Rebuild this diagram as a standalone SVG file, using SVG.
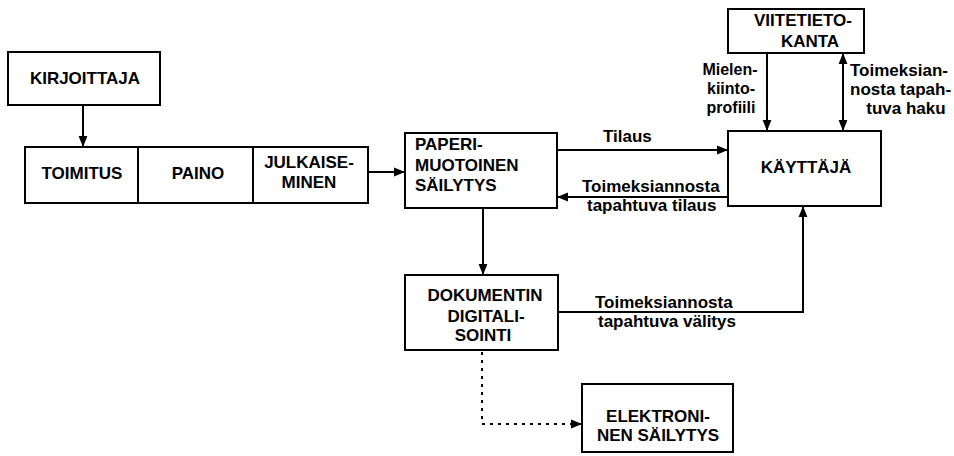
<svg xmlns="http://www.w3.org/2000/svg" width="954" height="456" viewBox="0 0 954 456">
<style>
.box{fill:#fff;stroke:#000;stroke-width:2}
.t{font-family:"Liberation Sans",Arial,sans-serif;font-weight:bold;font-size:17px;fill:#000}
.s{font-size:16px}
.c{text-anchor:middle}
.ln{fill:none;stroke:#000;stroke-width:2}
.dot{fill:none;stroke:#000;stroke-width:2;stroke-dasharray:3 5}
</style>
<defs>
<marker id="ah" viewBox="0 0 10 10" refX="10" refY="5" markerWidth="11" markerHeight="11" markerUnits="userSpaceOnUse" orient="auto-start-reverse">
<path d="M0,1 L10,5 L0,9 Z" fill="#000"/>
</marker>
</defs>
<rect width="954" height="456" fill="#fff"/>
<g id="kirjoittaja"><rect class="box" x="8" y="52" width="152" height="53"/><text class="t c" x="85" y="84">KIRJOITTAJA</text></g>
<g id="toimitus"><rect class="box" x="25" y="147" width="113" height="56"/><text class="t c" x="82" y="179">TOIMITUS</text></g>
<g id="paino"><rect class="box" x="138" y="147" width="115" height="56"/><text class="t c" x="198" y="179">PAINO</text></g>
<g id="julkaiseminen"><rect class="box" x="253" y="147" width="115" height="56"/><text class="t c" x="309" y="168">JULKAISE-</text><text class="t c" x="309" y="188">MINEN</text></g>
<g id="paperi"><rect class="box" x="405" y="133" width="152" height="75"/><text class="t" x="415" y="150">PAPERI-</text><text class="t" x="415" y="171">MUOTOINEN</text><text class="t" x="415" y="191">SÄILYTYS</text></g>
<g id="viitetietokanta"><rect class="box" x="728" y="9" width="136" height="44"/><text class="t c" x="803" y="26">VIITETIETO-</text><text class="t c" x="810" y="47">KANTA</text></g>
<g id="kayttaja"><rect class="box" x="728" y="131" width="153" height="75"/><text class="t c" x="806" y="173">KÄYTTÄJÄ</text></g>
<g id="dokumentin"><rect class="box" x="405" y="275" width="153" height="75"/><text class="t c" x="485" y="301">DOKUMENTIN</text><text class="t c" x="486" y="322">DIGITALI-</text><text class="t c" x="483" y="341">SOINTI</text></g>
<g id="elektroninen"><rect class="box" x="582" y="384" width="151" height="68"/><text class="t c" x="658" y="422">ELEKTRONI-</text><text class="t c" x="658" y="441">NEN SÄILYTYS</text></g>
<g id="connectors">
<line class="ln" x1="83" y1="105" x2="83" y2="147" marker-end="url(#ah)"/>
<line class="ln" x1="368" y1="172" x2="405" y2="172" marker-end="url(#ah)"/>
<line class="ln" x1="557" y1="150" x2="728" y2="150" marker-end="url(#ah)"/>
<line class="ln" x1="728" y1="197" x2="557" y2="197" marker-end="url(#ah)"/>
<line class="ln" x1="483" y1="208" x2="483" y2="275" marker-end="url(#ah)"/>
<polyline class="ln" points="558,312 803,312 803,206" marker-end="url(#ah)"/>
<line class="ln" x1="767" y1="53" x2="767" y2="131" marker-end="url(#ah)"/>
<line class="ln" x1="843" y1="53" x2="843" y2="131" marker-start="url(#ah)" marker-end="url(#ah)"/>
<polyline class="dot" points="482,352 482,424 582,424" marker-end="url(#ah)"/>
</g>
<g id="labels">
<text class="t" x="603" y="142">Tilaus</text>
<text class="t" x="582" y="192">Toimeksiannosta</text>
<text class="t" x="587" y="211">tapahtuva tilaus</text>
<text class="t s c" x="730" y="75">Mielen-</text>
<text class="t s c" x="731" y="94">kiinto-</text>
<text class="t s c" x="731" y="113">profiili</text>
<text class="t" x="850" y="76">Toimeksian-</text>
<text class="t" x="850" y="95">nosta tapah-</text>
<text class="t c" x="906" y="114">tuva haku</text>
<text class="t" x="595" y="308">Toimeksiannosta</text>
<text class="t" x="598" y="327">tapahtuva välitys</text>
</g>
</svg>
